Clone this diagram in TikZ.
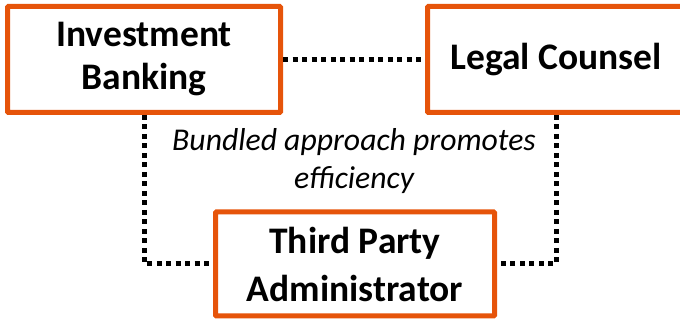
\documentclass[tikz,border=0pt]{standalone}
\usepackage{fontspec}
\setmainfont{Carlito}
\usepackage{xcolor}
\usetikzlibrary{calc}

\definecolor{boxorange}{RGB}{230,84,10}

\begin{document}
\begin{tikzpicture}[x=1pt, y=1pt,
		partybox/.style = {draw = boxorange, line width = 5pt, fill = white, rounded corners = 1pt, align = center, font = \fontsize{37.5}{43}\selectfont\bfseries, inner sep = 0pt},
		dotlink/.style = {line width = 5pt, dash pattern = on 5pt off 4.5pt}]
			\useasboundingbox (0,0) rectangle (680,320);
			
			\node [partybox, minimum width = 273, minimum height = 106] (ib) at (144, 260.5) {Investment\\Banking};
			\node [partybox, minimum width = 257, minimum height = 106] (lc) at (556, 260.5) {Legal Counsel};
			\node [partybox, minimum width = 279, minimum height = 104, font = \fontsize{37.5}{48}\selectfont\bfseries] (tpa) at (355, 56) {Third Party\\Administrator};
			
			\node [align = center, font = \fontsize{31.7}{38}\selectfont\itshape] (note) at (354, 159) {Bundled approach promotes\\efficiency};
			
			\draw [dotlink] (ib.east) -- (lc.west);
			\draw [dotlink] (ib.south) |- (tpa.west);
			\draw [dotlink] (lc.south) |- (tpa.east);
			
		\end{tikzpicture}
\end{document}
